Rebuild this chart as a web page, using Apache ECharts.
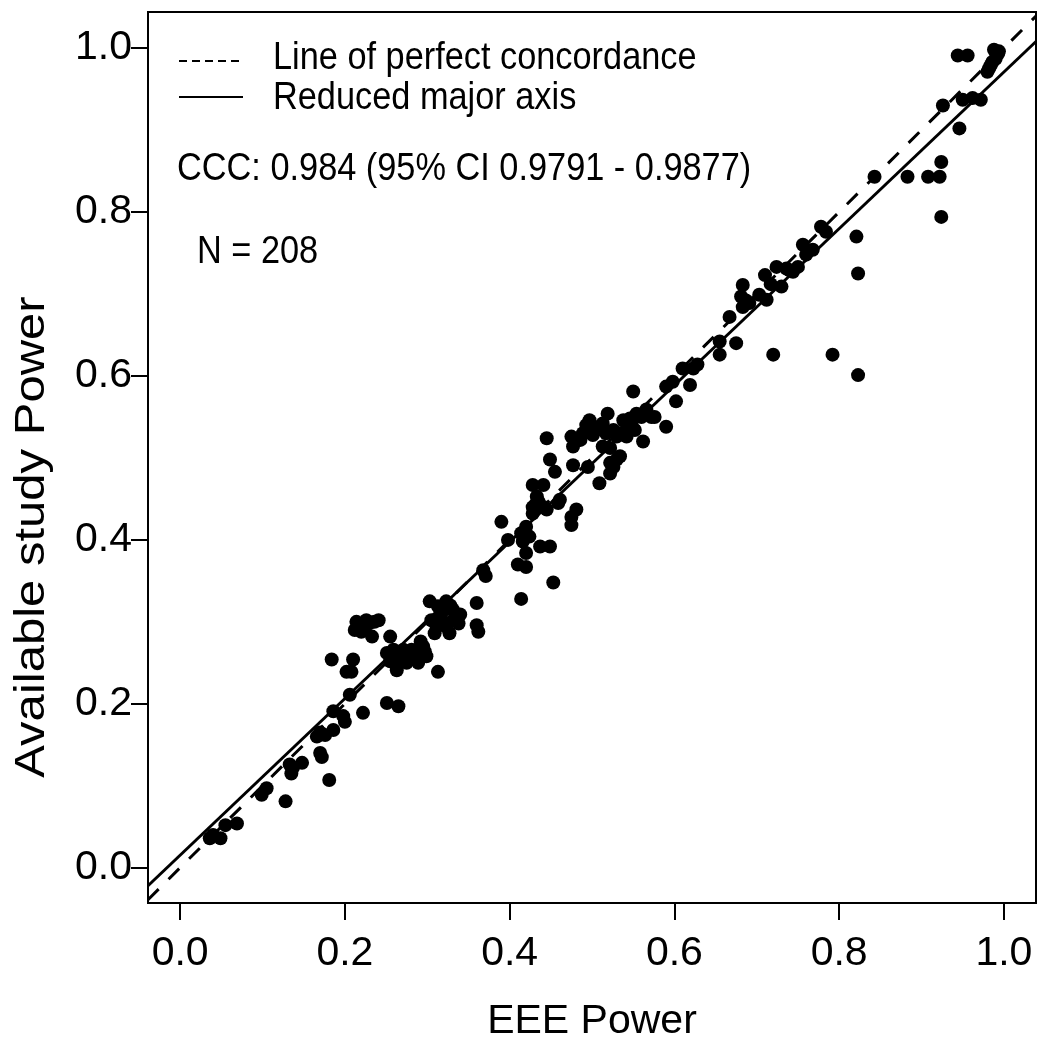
<!DOCTYPE html>
<html>
<head>
<meta charset="utf-8">
<script src="https://cdn.jsdelivr.net/npm/echarts@6/dist/echarts.min.js"></script>
<style>
html,body{margin:0;padding:0;background:#fff;}
#chart{width:1050px;height:1050px;}
</style>
</head>
<body>
<div id="chart"></div>
<script>
// ---- Data ----
const eeePower = [
  0.036,0.049,0.055,0.069,0.099,0.105,0.128,0.133,0.148,0.135,0.170,0.172,0.181,0.166,0.170,0.186,0.198,0.200,0.186,0.222,0.251,0.265,0.206,0.202,0.208,0.210,0.184,
  0.214,0.226,0.241,0.212,0.220,0.233,0.218,0.224,0.255,
  0.313,0.263,
  0.251,0.259,0.263,0.271,0.277,0.287,0.295,0.299,0.289,0.275,0.255,0.267,0.281,0.292,0.270,
  0.303,0.313,0.323,0.331,0.340,0.315,0.311,0.323,0.327,0.309,0.338,0.305,0.318,0.333,
  0.360,0.360,0.362,0.414,0.453,0.368,0.371,0.390,0.398,
  0.414,0.420,0.416,0.420,0.410,0.420,0.437,0.449,
  0.428,0.435,0.428,0.441,0.433,0.445,0.428,0.441,0.459,0.461,0.449,0.455,0.477,0.445,0.481,0.475,0.475,
  0.509,0.522,0.530,0.526,0.534,0.522,0.495,
  0.475,0.477,0.489,0.497,0.505,0.513,0.493,0.501,0.519,0.534,0.538,0.522,0.526,0.542,0.554,0.560,0.546,0.572,0.530,0.552,0.542,0.513,
  0.550,0.562,0.590,0.566,0.576,0.602,0.619,0.590,0.598,0.610,0.623,
  0.655,0.655,0.675,0.667,0.681,0.691,0.683,0.683,
  0.720,0.792,0.823,0.823,0.821,
  0.710,0.712,0.703,0.724,0.736,0.730,0.744,0.750,0.756,0.760,0.768,0.778,0.784,
  0.924,0.883,0.908,0.922,0.924,0.843,0.946,0.926,0.950,0.962,0.972,0.944,0.956,0.988,0.993,0.986,0.982,0.990,0.980,
  0.040,0.137,0.176,0.229,0.236,0.262,0.284,0.297,0.320,0.328,0.432,0.424,0.509,0.517,0.548,0.486,0.740,0.717,0.687,0.984,0.994,0.628
];
const studyPower = [
  0.036,0.036,0.052,0.054,0.089,0.097,0.081,0.126,0.128,0.115,0.140,0.135,0.107,0.160,0.165,0.168,0.185,0.178,0.191,0.189,0.201,0.197,0.211,0.239,0.239,0.254,0.254,
  0.300,0.302,0.302,0.290,0.288,0.282,0.297,0.294,0.282,
  0.239,0.241,
  0.262,0.266,0.255,0.266,0.258,0.262,0.270,0.258,0.250,0.250,0.252,0.260,0.266,0.276,0.254,
  0.325,0.319,0.325,0.315,0.309,0.306,0.296,0.294,0.286,0.286,0.298,0.302,0.312,0.304,
  0.323,0.296,0.288,0.328,0.348,0.363,0.356,0.422,0.400,
  0.408,0.416,0.398,0.384,0.370,0.367,0.392,0.392,
  0.440,0.447,0.432,0.440,0.453,0.437,0.467,0.467,0.445,0.449,0.498,0.483,0.491,0.524,0.437,0.428,0.418,
  0.469,0.481,0.498,0.489,0.502,0.494,0.489,
  0.526,0.514,0.530,0.546,0.534,0.542,0.540,0.528,0.554,0.530,0.546,0.512,0.534,0.542,0.554,0.550,0.548,0.550,0.526,0.534,0.526,0.514,
  0.581,0.520,0.538,0.559,0.550,0.569,0.589,0.587,0.593,0.609,0.609,
  0.626,0.642,0.640,0.672,0.697,0.689,0.684,0.711,
  0.626,0.626,0.601,0.725,0.770,
  0.723,0.693,0.699,0.733,0.731,0.709,0.727,0.733,0.760,0.748,0.754,0.782,0.776,
  0.794,0.843,0.843,0.843,0.861,0.843,0.902,0.930,0.937,0.939,0.937,0.991,0.991,0.998,0.993,0.983,0.975,0.987,0.971,
  0.040,0.122,0.162,0.298,0.300,0.262,0.256,0.264,0.300,0.320,0.444,0.404,0.538,0.530,0.540,0.522,0.729,0.712,0.692,0.979,0.996,0.614
];
// Line of perfect concordance and reduced major axis (end points across the plot region)
const concordanceX = [-0.039, 1.039];
const concordanceY = [-0.039, 1.039];
const rmaX = [-0.039, 1.039];
const rmaY = [-0.022, 1.008];
const tickValues = [0, 0.2, 0.4, 0.6, 0.8, 1.0];
const legendLabels = ['Line of perfect concordance', 'Reduced major axis'];
const cccText = 'CCC: 0.984 (95% CI 0.9791 - 0.9877)';
const nText = 'N = 208';
const xTitle = 'EEE Power';
const yTitle = 'Available study Power';

// ---- Chart ----
const FONT = 'Liberation Sans, Arial, Helvetica, sans-serif';
const chart = echarts.init(document.getElementById('chart'), null, {renderer: 'canvas'});
const points = eeePower.map((x, i) => [x, studyPower[i]]);
const axisCommon = {
  type: 'value',
  axisLine: {show: true, onZero: false, lineStyle: {color: '#000', width: 2}},
  axisTick: {show: true, customValues: tickValues, length: 17, lineStyle: {color: '#000', width: 2}},
  axisLabel: {customValues: tickValues, formatter: v => v.toFixed(1), color: '#000', fontSize: 41, fontFamily: FONT},
  splitLine: {show: false},
  nameLocation: 'middle',
  nameTextStyle: {color: '#000', fontSize: 41, fontFamily: FONT}
};
const textEl = (txt, x, y) => ({
  type: 'text', x: x, y: y, scaleX: 0.88, scaleY: 1,
  style: {text: txt, x: 0, y: 0, fill: '#000', font: '39px ' + FONT,
          textAlign: 'left', textVerticalAlign: 'middle', align: 'left', verticalAlign: 'middle'}
});
const option = {
  animation: false,
  backgroundColor: '#fff',
  grid: {left: 148, top: 12, width: 888, height: 891, show: true, borderColor: '#000', borderWidth: 2, containLabel: false},
  xAxis: Object.assign({}, axisCommon, {
    min: -0.039, max: 1.039, name: xTitle, nameGap: 98,
    axisLabel: Object.assign({}, axisCommon.axisLabel, {margin: 30})
  }),
  yAxis: Object.assign({}, axisCommon, {
    min: -0.043, max: 1.044,
    axisLabel: Object.assign({}, axisCommon.axisLabel, {margin: 16})
  }),
  series: [
    {
      type: 'scatter', data: points, symbol: 'circle', symbolSize: 14,
      itemStyle: {color: '#000', opacity: 1}, z: 2
    },
    {
      type: 'line', data: concordanceX.map((x, i) => [x, concordanceY[i]]),
      showSymbol: false, symbol: 'none', clip: true,
      lineStyle: {color: '#000', width: 3, type: [15, 14]}, z: 3
    },
    {
      type: 'line', data: rmaX.map((x, i) => [x, rmaY[i]]),
      showSymbol: false, symbol: 'none', clip: true,
      lineStyle: {color: '#000', width: 3, type: 'solid'}, z: 3
    }
  ],
  graphic: [
    {type: 'line', shape: {x1: 179, y1: 61, x2: 243, y2: 61}, style: {stroke: '#000', lineWidth: 2, lineDash: [8, 5]}},
    {type: 'line', shape: {x1: 179, y1: 97, x2: 243, y2: 97}, style: {stroke: '#000', lineWidth: 2}},
    textEl(legendLabels[0], 273, 58),
    textEl(legendLabels[1], 273, 98),
    textEl(cccText, 177, 169),
    textEl(nText, 197, 252),
    {
      type: 'text', x: 32, y: 537, rotation: Math.PI / 2, scaleX: 1.14, scaleY: 1,
      style: {text: yTitle, x: 0, y: 0, fill: '#000', font: '43px ' + FONT,
              textAlign: 'center', textVerticalAlign: 'middle', align: 'center', verticalAlign: 'middle'}
    }
  ]
};
chart.setOption(option);
</script>
</body>
</html>
